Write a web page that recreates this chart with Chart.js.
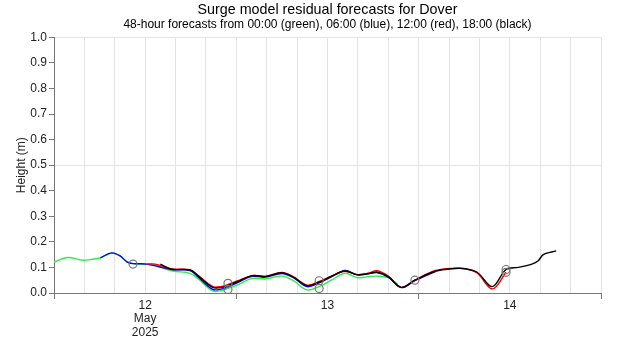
<!DOCTYPE html>
<html>
<head>
<meta charset="utf-8">
<script src="https://cdn.jsdelivr.net/npm/chart.js@4"></script>
<style>
  body { margin: 0; background: #fff; }
  #wrap { width: 620px; height: 350px; }
</style>
</head>
<body>
<div id="wrap"><canvas id="surgeChart"></canvas></div>
<script>
// hours since 11 May 00:00
var greenHours  = [36, 37.8, 39.8, 41.1, 42.1, 43.6, 44.7, 45.6, 46.4, 48.2, 49.3, 51.5, 53.9, 55.0, 56.9, 58.1, 58.9, 60.1, 62.1, 63.8, 66.0, 67.5, 69.3, 70.9, 72.5, 74.3, 75.9, 77.3, 78.5, 80.0, 81.2];
var greenValues = [0.121, 0.139, 0.128, 0.132, 0.137, 0.156, 0.145, 0.122, 0.115, 0.113, 0.110, 0.087, 0.077, 0.055, 0.008, 0.010, 0.018, 0.031, 0.057, 0.055, 0.066, 0.048, 0.012, 0.025, 0.050, 0.077, 0.060, 0.064, 0.066, 0.060, 0.035];

var blueHours  = [42.1, 43.6, 44.7, 45.6, 46.4, 48.2, 51.5, 53.9, 55.0, 56.9, 58.1, 58.9, 60.1, 62.1, 63.8, 66.0, 67.5, 69.3, 70.9, 72.5, 74.3, 75.9, 77.3, 78.5, 80.0, 81.7, 83.5, 86.2];
var blueValues = [0.138, 0.157, 0.145, 0.122, 0.115, 0.113, 0.092, 0.088, 0.062, 0.014, 0.016, 0.024, 0.040, 0.065, 0.062, 0.076, 0.060, 0.025, 0.040, 0.063, 0.088, 0.072, 0.075, 0.080, 0.062, 0.021, 0.048, 0.084];

var redHours  = [48.2, 49.3, 51.5, 53.9, 55.0, 56.9, 58.1, 58.9, 60.1, 62.1, 63.8, 66.0, 67.5, 69.3, 70.9, 72.5, 74.3, 75.9, 77.3, 78.5, 80.0, 81.7, 83.5, 86.2, 88.8, 90.1, 91.7, 93.7, 95.5];
var redValues = [0.113, 0.113, 0.094, 0.091, 0.068, 0.025, 0.026, 0.033, 0.047, 0.068, 0.066, 0.080, 0.064, 0.031, 0.045, 0.066, 0.085, 0.072, 0.077, 0.087, 0.066, 0.022, 0.050, 0.088, 0.097, 0.095, 0.078, 0.016, 0.081];

var blackHours  = [50.0, 51.5, 53.9, 55.0, 56.9, 58.1, 58.9, 60.1, 62.1, 63.8, 66.0, 67.5, 69.3, 70.9, 72.5, 74.3, 75.9, 77.3, 78.5, 80.0, 81.7, 83.5, 86.2, 88.8, 90.1, 91.7, 93.7, 95.5, 97.1, 98.9, 99.7, 100.4, 101.7, 102.1];
var blackValues = [0.113, 0.093, 0.090, 0.066, 0.022, 0.022, 0.030, 0.044, 0.068, 0.064, 0.079, 0.062, 0.029, 0.042, 0.065, 0.086, 0.071, 0.075, 0.081, 0.064, 0.022, 0.050, 0.085, 0.096, 0.095, 0.081, 0.025, 0.092, 0.100, 0.113, 0.125, 0.150, 0.162, 0.165];

// forecast start markers
var markerHours  = [46.4, 58.9, 58.9, 70.9, 70.9, 83.5, 95.5, 95.5];
var markerValues = [0.113, 0.038, 0.014, 0.048, 0.018, 0.050, 0.092, 0.081];

var yTicks = [0, 0.1, 0.2, 0.3, 0.4, 0.5, 0.6, 0.7, 0.8, 0.9, 1.0];

function toPoints(xs, ys) {
    return xs.map(function (x, i) { return { x: x, y: ys[i] }; });
}

function lineSet(label, xs, ys, color) {
    return {
        label: label,
        data: toPoints(xs, ys),
        borderColor: color,
        borderWidth: 1.4,
        pointRadius: 0,
        fill: false,
        tension: 0.35
    };
}

Chart.defaults.font.family = '"Liberation Sans", Arial, sans-serif';
Chart.defaults.color = '#222';

var ctx = document.getElementById('surgeChart').getContext('2d');
var surgeChart = new Chart(ctx, {
    type: 'line',
    data: {
        datasets: [
            {
                label: 'starts',
                data: toPoints(markerHours, markerValues),
                showLine: false,
                pointRadius: 4,
                pointBorderWidth: 1.2,
                pointBorderColor: '#777',
                pointBackgroundColor: 'rgba(0,0,0,0)'
            },
            lineSet('18:00', blackHours, blackValues, '#000000'),
            lineSet('12:00', redHours, redValues, '#ff0000'),
            lineSet('06:00', blueHours, blueValues, '#0000ff'),
            lineSet('00:00', greenHours, greenValues, '#2eee4a')
        ]
    },
    options: {
        responsive: true,
        maintainAspectRatio: false,
        animation: false,
        layout: { padding: { left: 0, right: 19, top: 0, bottom: 0 } },
        plugins: {
            legend: { display: false },
            tooltip: { enabled: false },
            title: {
                display: true,
                fullSize: false,
                text: 'Surge model residual forecasts for Dover',
                color: '#000',
                font: { size: 14.3, weight: 'normal', lineHeight: 1.0 },
                padding: { top: 3, bottom: 0 }
            },
            subtitle: {
                display: true,
                fullSize: false,
                text: '48-hour forecasts from 00:00 (green), 06:00 (blue), 12:00 (red), 18:00 (black)',
                color: '#000',
                font: { size: 12, lineHeight: 1.2 },
                padding: { top: 0, bottom: 5.6 }
            }
        },
        scales: {
            x: {
                type: 'linear',
                min: 36,
                max: 108,
                afterFit: function (scale) { scale.height = 57; },
                ticks: {
                    stepSize: 4,
                    autoSkip: false,
                    maxRotation: 0,
                    padding: 0,
                    color: '#222',
                    font: { size: 12, lineHeight: 1.12 },
                    callback: function (value) {
                        if (value === 48) return ['12', 'May', '2025'];
                        if (value === 72) return '13';
                        if (value === 96) return '14';
                        return '';
                    }
                },
                grid: {
                    color: '#e4e4e4',
                    tickLength: 6,
                    tickColor: function (c) {
                        return (c.tick && c.tick.value % 24 === 12) ? '#777' : 'rgba(0,0,0,0)';
                    }
                },
                border: { color: '#777' }
            },
            y: {
                min: 0,
                max: 1,
                afterFit: function (scale) { scale.width = 54; },
                afterBuildTicks: function (scale) {
                    scale.ticks = yTicks.map(function (v) { return { value: v }; });
                },
                ticks: {
                    padding: 2,
                    color: '#222',
                    font: { size: 12 },
                    callback: function (value) { return value.toFixed(1); }
                },
                grid: {
                    tickLength: 5,
                    tickColor: '#777',
                    color: function (c) {
                        var v = c.tick ? c.tick.value : null;
                        return (v === 0.5 || v === 1) ? '#e4e4e4' : 'rgba(0,0,0,0)';
                    }
                },
                border: { color: '#777' },
                title: {
                    display: true,
                    text: 'Height (m)',
                    color: '#222',
                    font: { size: 12 },
                    padding: { top: 14, bottom: 0 }
                }
            }
        }
    }
});
</script>
</body>
</html>
